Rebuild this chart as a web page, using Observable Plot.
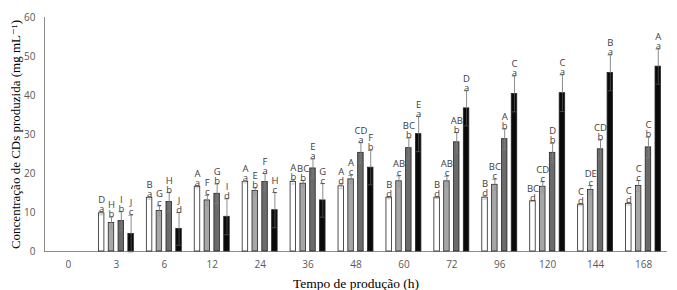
<!DOCTYPE html>
<html>
<head>
<meta charset="utf-8">
<script src="https://cdn.jsdelivr.net/npm/d3@7"></script>
<script src="https://cdn.jsdelivr.net/npm/@observablehq/plot@0.6"></script>
<style>
  body { margin: 0; background: #fff; }
  #chart svg { opacity: 0.999; will-change: opacity; }
</style>
</head>
<body>
<div id="chart"></div>
<script>
const times = ["0", "3", "6", "12", "24", "36", "48", "60", "72", "96", "120", "144", "168"];
const series = ["S1", "S2", "S3", "S4"];
const seriesColors = ["#ffffff", "#a6a6a6", "#6b6b6b", "#0a0a0a"];

const valS1 = [null, 9.8, 13.7, 16.6, 17.8, 17.8, 16.7, 13.8, 13.8, 13.8, 12.9, 12.0, 12.2];
const valS2 = [null, 7.3, 10.4, 13.1, 15.5, 17.4, 18.5, 18.0, 18.0, 17.1, 16.6, 15.8, 16.8];
const valS3 = [null, 7.8, 12.7, 14.8, 17.8, 21.3, 25.3, 26.5, 28.0, 28.8, 25.3, 26.2, 26.7];
const valS4 = [null, 4.5, 5.8, 8.9, 10.6, 13.1, 21.5, 30.1, 36.7, 40.4, 40.6, 45.8, 47.4];

const errS1 = [null, 0.4, 0.3, 0.3, 0.2, 0.5, 0.6, 0.3, 0.2, 0.4, 0.1, 0.3, 0.3];
const errS2 = [null, 1.5, 1.3, 1.3, 0.8, 0.8, 1.0, 1.4, 1.3, 1.4, 1.3, 1.1, 1.4];
const errS3 = [null, 2.4, 2.4, 2.5, 2.2, 2.4, 2.6, 2.6, 2.5, 2.6, 2.4, 2.4, 2.6];
const errS4 = [null, 4.8, 4.2, 4.6, 4.5, 4.3, 4.4, 4.5, 4.5, 4.6, 4.7, 4.6, 4.5];

const upS1 = ["", "D", "B", "A", "A", "A", "A", "B", "B", "B", "BC", "C", "C"];
const upS2 = ["", "H", "G", "F", "E", "BC", "A", "AB", "AB", "BC", "CD", "DE", "C"];
const upS3 = ["", "I", "H", "G", "F", "E", "CD", "BC", "AB", "A", "D", "CD", "C"];
const upS4 = ["", "J", "J", "I", "H", "G", "F", "E", "D", "C", "C", "B", "A"];

const loS1 = ["", "a", "a", "a", "a", "b", "d", "d", "d", "d", "d", "d", "d"];
const loS2 = ["", "b", "c", "c", "b", "b", "c", "c", "c", "c", "c", "c", "c"];
const loS3 = ["", "b", "b", "b", "a", "a", "a", "b", "b", "b", "b", "b", "b"];
const loS4 = ["", "c", "d", "d", "c", "c", "b", "a", "a", "a", "a", "a", "a"];

const yTicks = [0, 10, 20, 30, 40, 50, 60];
const xTitle = "Tempo de produção (h)";
const yTitle = "Concentração de CDs produzida (mg mL⁻¹)";

const vals = [valS1, valS2, valS3, valS4];
const errs = [errS1, errS2, errS3, errS4];
const ups = [upS1, upS2, upS3, upS4];
const los = [loS1, loS2, loS3, loS4];

const rows = [];
times.forEach((t, i) => {
  series.forEach((s, j) => {
    const v = vals[j][i];
    if (v == null) return;
    rows.push({time: t, series: s, value: v, err: errs[j][i], hi: v + errs[j][i], lo: v - errs[j][i], up: ups[j][i], low: los[j][i]});
  });
});

const tickFont = "'Open Sans', 'Liberation Sans', sans-serif";
const serif = "'Liberation Serif', 'DejaVu Serif', serif";

const chart = Plot.plot({
  width: 677,
  height: 290,
  marginLeft: 44,
  marginRight: 10,
  marginTop: 17,
  marginBottom: 39,
  style: {background: "#fff", color: "#595959"},
  fx: {domain: times, padding: 0, round: false, label: null},
  x: {domain: series, paddingInner: 0.44, paddingOuter: 0.66, round: false, axis: null},
  y: {domain: [0, 60], label: null},
  color: {domain: series, range: seriesColors},
  marks: [
    Plot.ruleY(times, {fx: (d) => d, y: 0, stroke: "#8c8c8c", strokeWidth: 1}),
    Plot.axisY({ticks: yTicks, tickSize: 0, tickPadding: 9, fontSize: 10, fontFamily: tickFont, fill: "#595959", label: null, facetAnchor: "left"}),
    Plot.axisFx({anchor: "bottom", tickSize: 0, tickPadding: 9, fontSize: 10, fontFamily: tickFont, fill: "#595959", label: null}),
    Plot.frame({anchor: "left", facetAnchor: "left", stroke: "#8c8c8c"}),
    Plot.barY(rows, {fx: "time", x: "series", y: "value", fill: "series", stroke: "#262626", strokeWidth: 0.8}),
    Plot.ruleX(rows, {fx: "time", x: "series", y1: "lo", y2: "value", stroke: "#8c8c8c", strokeOpacity: 0.45}),
    Plot.tickY(rows, {fx: "time", x: "series", y: "lo", stroke: "#8c8c8c", strokeOpacity: 0.45, insetLeft: 0.5, insetRight: 0.5}),
    Plot.ruleX(rows, {fx: "time", x: "series", y1: "value", y2: "hi", stroke: "#8c8c8c"}),
    Plot.tickY(rows, {fx: "time", x: "series", y: "hi", stroke: "#8c8c8c", insetLeft: 0.5, insetRight: 0.5}),
    Plot.text(rows, {fx: "time", x: "series", y: "hi", text: "low", lineAnchor: "bottom", dy: 0, fontSize: 9.5, fontFamily: tickFont, fill: "#404040"}),
    Plot.text(rows, {fx: "time", x: "series", y: "hi", text: "up", lineAnchor: "bottom", dy: -9, fontSize: 9.5, fontFamily: tickFont, fill: "#404040"}),
    Plot.text([xTitle], {frameAnchor: "bottom", facet: "super", dy: 36, fontSize: 13.5, fontFamily: serif, fill: "#000", lineAnchor: "bottom"}),
    Plot.text([yTitle], {frameAnchor: "left", facet: "super", dx: -29, rotate: -90, textAnchor: "middle", fontSize: 13, fontFamily: serif, fill: "#000"})
  ]
});

document.getElementById("chart").appendChild(chart);
</script>
</body>
</html>
